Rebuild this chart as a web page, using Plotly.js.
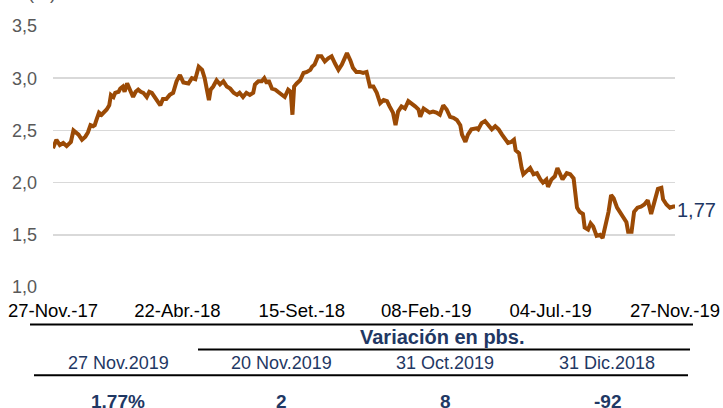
<!DOCTYPE html>
<html>
<head>
<meta charset="utf-8">
<script src="https://cdn.plot.ly/plotly-3.0.1.min.js"></script>
<style>
  html, body { margin: 0; padding: 0; background: #ffffff; }
  #chart { width: 723px; height: 408px; }
</style>
</head>
<body>
<div id="chart"></div>
<script>
// ---------------- DATA ----------------
const dates = [
  "2017-11-27","2017-12-01","2017-12-05","2017-12-09","2017-12-13","2017-12-18","2017-12-21","2017-12-24","2017-12-27","2017-12-31",
  "2018-01-04","2018-01-07","2018-01-10","2018-01-13","2018-01-15","2018-01-17","2018-01-20","2018-01-23","2018-01-26","2018-01-29",
  "2018-02-01","2018-02-03","2018-02-06","2018-02-08","2018-02-12","2018-02-14","2018-02-17","2018-02-19","2018-02-22","2018-02-25",
  "2018-02-27","2018-03-01","2018-03-04","2018-03-07","2018-03-10","2018-03-13","2018-03-17","2018-03-20","2018-03-23","2018-03-26",
  "2018-03-29","2018-04-02","2018-04-05","2018-04-09","2018-04-13","2018-04-17","2018-04-21","2018-04-25","2018-04-29","2018-05-05",
  "2018-05-09","2018-05-13","2018-05-17","2018-05-21","2018-05-24","2018-05-26","2018-05-29","2018-05-31","2018-06-03","2018-06-07",
  "2018-06-11","2018-06-15","2018-06-19","2018-06-23","2018-06-27","2018-07-01","2018-07-04","2018-07-08","2018-07-12","2018-07-16",
  "2018-07-20","2018-07-22","2018-07-26","2018-07-30","2018-08-02","2018-08-05","2018-08-07","2018-08-11","2018-08-15","2018-08-18",
  "2018-08-22","2018-08-26","2018-08-30","2018-09-02","2018-09-04","2018-09-06","2018-09-09","2018-09-13","2018-09-17","2018-09-21",
  "2018-09-25","2018-09-27","2018-09-30","2018-10-04","2018-10-08","2018-10-12","2018-10-16","2018-10-20","2018-10-24","2018-10-28",
  "2018-11-01","2018-11-05","2018-11-07","2018-11-11","2018-11-14","2018-11-18","2018-11-22","2018-11-26","2018-11-30","2018-12-04",
  "2018-12-08","2018-12-12","2018-12-16","2018-12-20","2018-12-24","2018-12-27","2018-12-31","2019-01-03","2019-01-06","2019-01-10",
  "2019-01-14","2019-01-18","2019-01-22","2019-01-26","2019-01-30","2019-02-01","2019-02-05","2019-02-09","2019-02-12","2019-02-16",
  "2019-02-20","2019-02-24","2019-02-28","2019-03-04","2019-03-08","2019-03-12","2019-03-16","2019-03-20","2019-03-22","2019-03-26",
  "2019-03-29","2019-04-02","2019-04-05","2019-04-08","2019-04-10","2019-04-14","2019-04-18","2019-04-22","2019-04-26","2019-04-30",
  "2019-05-04","2019-05-08","2019-05-11","2019-05-15","2019-05-19","2019-05-22","2019-05-24","2019-05-28","2019-05-31","2019-06-02",
  "2019-06-06","2019-06-10","2019-06-14","2019-06-18","2019-06-22","2019-06-25","2019-06-29","2019-07-01","2019-07-05","2019-07-09",
  "2019-07-12","2019-07-15","2019-07-18","2019-07-23","2019-07-27","2019-07-31","2019-08-02","2019-08-04","2019-08-07","2019-08-11",
  "2019-08-13","2019-08-17","2019-08-20","2019-08-23","2019-08-27","2019-08-31","2019-09-03","2019-09-06","2019-09-10","2019-09-13",
  "2019-09-16","2019-09-20","2019-09-23","2019-09-27","2019-10-01","2019-10-03","2019-10-07","2019-10-10","2019-10-14","2019-10-18",
  "2019-10-22","2019-10-26","2019-10-30","2019-11-03","2019-11-07","2019-11-11","2019-11-13","2019-11-17","2019-11-21","2019-11-25",
  "2019-11-27"
];
const yields = [
  2.33,2.41,2.36,2.38,2.35,2.39,2.50,2.48,2.46,2.41,
  2.44,2.48,2.55,2.54,2.55,2.60,2.67,2.65,2.67,2.70,
  2.74,2.84,2.82,2.86,2.87,2.90,2.92,2.87,2.95,2.89,
  2.87,2.82,2.87,2.89,2.87,2.86,2.82,2.87,2.86,2.82,
  2.79,2.74,2.80,2.80,2.84,2.86,2.97,3.03,2.96,2.95,
  3.00,2.99,3.11,3.08,3.00,2.92,2.79,2.89,2.92,2.98,
  2.94,2.97,2.92,2.90,2.86,2.84,2.86,2.82,2.86,2.84,
  2.86,2.94,2.97,2.97,3.00,2.95,2.98,2.90,2.89,2.87,
  2.84,2.82,2.89,2.87,2.65,2.92,2.95,2.98,3.05,3.06,
  3.08,3.11,3.13,3.21,3.21,3.16,3.19,3.21,3.14,3.08,
  3.13,3.19,3.24,3.17,3.10,3.06,3.06,3.05,3.06,2.92,
  2.92,2.86,2.76,2.79,2.78,2.73,2.67,2.55,2.68,2.73,
  2.71,2.78,2.76,2.73,2.70,2.63,2.71,2.68,2.67,2.68,
  2.67,2.65,2.74,2.70,2.63,2.62,2.60,2.55,2.46,2.39,
  2.46,2.51,2.52,2.52,2.51,2.57,2.59,2.55,2.51,2.54,
  2.51,2.46,2.43,2.38,2.39,2.41,2.31,2.28,2.14,2.08,
  2.11,2.14,2.08,2.09,2.03,2.00,2.03,1.96,2.03,2.06,
  2.14,2.09,2.03,2.09,2.08,2.04,1.90,1.76,1.72,1.70,
  1.57,1.55,1.61,1.58,1.49,1.50,1.47,1.57,1.72,1.88,
  1.85,1.76,1.72,1.68,1.62,1.53,1.53,1.72,1.76,1.77,
  1.79,1.83,1.70,1.82,1.94,1.95,1.84,1.79,1.76,1.77,
  1.77
];
const tickDates = ["2017-11-27","2018-04-22","2018-09-15","2019-02-08","2019-07-04","2019-11-27"];
const tickLabels = ["27-Nov.-17","22-Abr.-18","15-Set.-18","08-Feb.-19","04-Jul.-19","27-Nov.-19"];
const lastLabel = "1,77";
const unitLabel = "(%)";
const tableTitle = "Variación en pbs.";
const tableHeaders = ["27 Nov.2019","20 Nov.2019","31 Oct.2019","31 Dic.2018"];
const tableValues = ["1.77%","2","8","-92"];

// ---------------- LAYOUT HELPERS ----------------
const W = 723, H = 408;
const L = 53, R = 675, T = 26, B = 287.5;
const px = x => (x - L) / (R - L);
const py = y => (B - y) / (B - T);
const FONT = "Liberation Sans, Arial, sans-serif";
const NAVY = "#1F3864";

const annotations = [];
const shapes = [];

// unit label (cut at top)
annotations.push({xref:"paper", yref:"paper", x: px(42), y: py(-7), text: unitLabel,
  showarrow:false, xanchor:"center", yanchor:"middle", font:{family:FONT, size:18, color:"#595959"}});

// last value label
annotations.push({xref:"x", yref:"y", x: dates[dates.length-1], y: yields[yields.length-1],
  text: lastLabel, showarrow:false, xanchor:"left", yanchor:"middle", xshift: 0, yshift:-3,
  font:{family:FONT, size:20, color:NAVY}});

// table lines
function hline(x0, x1, y, w) {
  shapes.push({type:"line", xref:"paper", yref:"paper", x0:px(x0), x1:px(x1), y0:py(y), y1:py(y),
    line:{color:"#000000", width:w}});
}
hline(30, 693, 325, 2);
hline(198, 690, 350, 2);
hline(34, 688, 376, 2);

annotations.push({xref:"paper", yref:"paper", x: px(443), y: py(338), text: "<b>" + tableTitle + "</b>",
  showarrow:false, xanchor:"center", yanchor:"middle", font:{family:FONT, size:20, color:NAVY}});

const colX = [118, 281, 445, 607];
tableHeaders.forEach((t, i) => annotations.push({xref:"paper", yref:"paper", x: px(colX[i]), y: py(364),
  text: t, showarrow:false, xanchor:"center", yanchor:"middle", font:{family:FONT, size:18, color:NAVY}}));
tableValues.forEach((t, i) => annotations.push({xref:"paper", yref:"paper", x: px(colX[i]), y: py(402),
  text: "<b>" + t + "</b>", showarrow:false, xanchor:"center", yanchor:"middle", font:{family:FONT, size:19, color:NAVY}}));

const trace = {
  x: dates, y: yields, type:"scatter", mode:"lines",
  line:{color:"#9B4A05", width:4}, hoverinfo:"skip"
};

const layout = {
  width: W, height: H,
  margin:{l:L, r:W-R, t:T, b:H-B, pad:0},
  paper_bgcolor:"#ffffff", plot_bgcolor:"#ffffff",
  separators: ",.",
  showlegend:false,
  font:{family:FONT},
  xaxis:{
    type:"date", range:["2017-11-27","2019-11-27"],
    tickvals: tickDates, ticktext: tickLabels,
    showgrid:false, zeroline:false, showline:false, ticks:"",
    tickfont:{family:FONT, size:18.5, color:"#000000"}, tickangle:0,
    ticklabelstandoff: 10
  },
  yaxis:{
    range:[1.0, 3.5], dtick:0.5, tick0:1.0, tickformat:".1f",
    showgrid:true, gridcolor:"#D9D9D9", gridwidth:1.5,
    zeroline:false, showline:false, ticks:"",
    tickfont:{family:FONT, size:18, color:"#595959"},
    ticklabelstandoff: 15
  },
  annotations: annotations,
  shapes: shapes
};

Plotly.newPlot("chart", [trace], layout, {staticPlot:true, displayModeBar:false});
</script>
</body>
</html>
